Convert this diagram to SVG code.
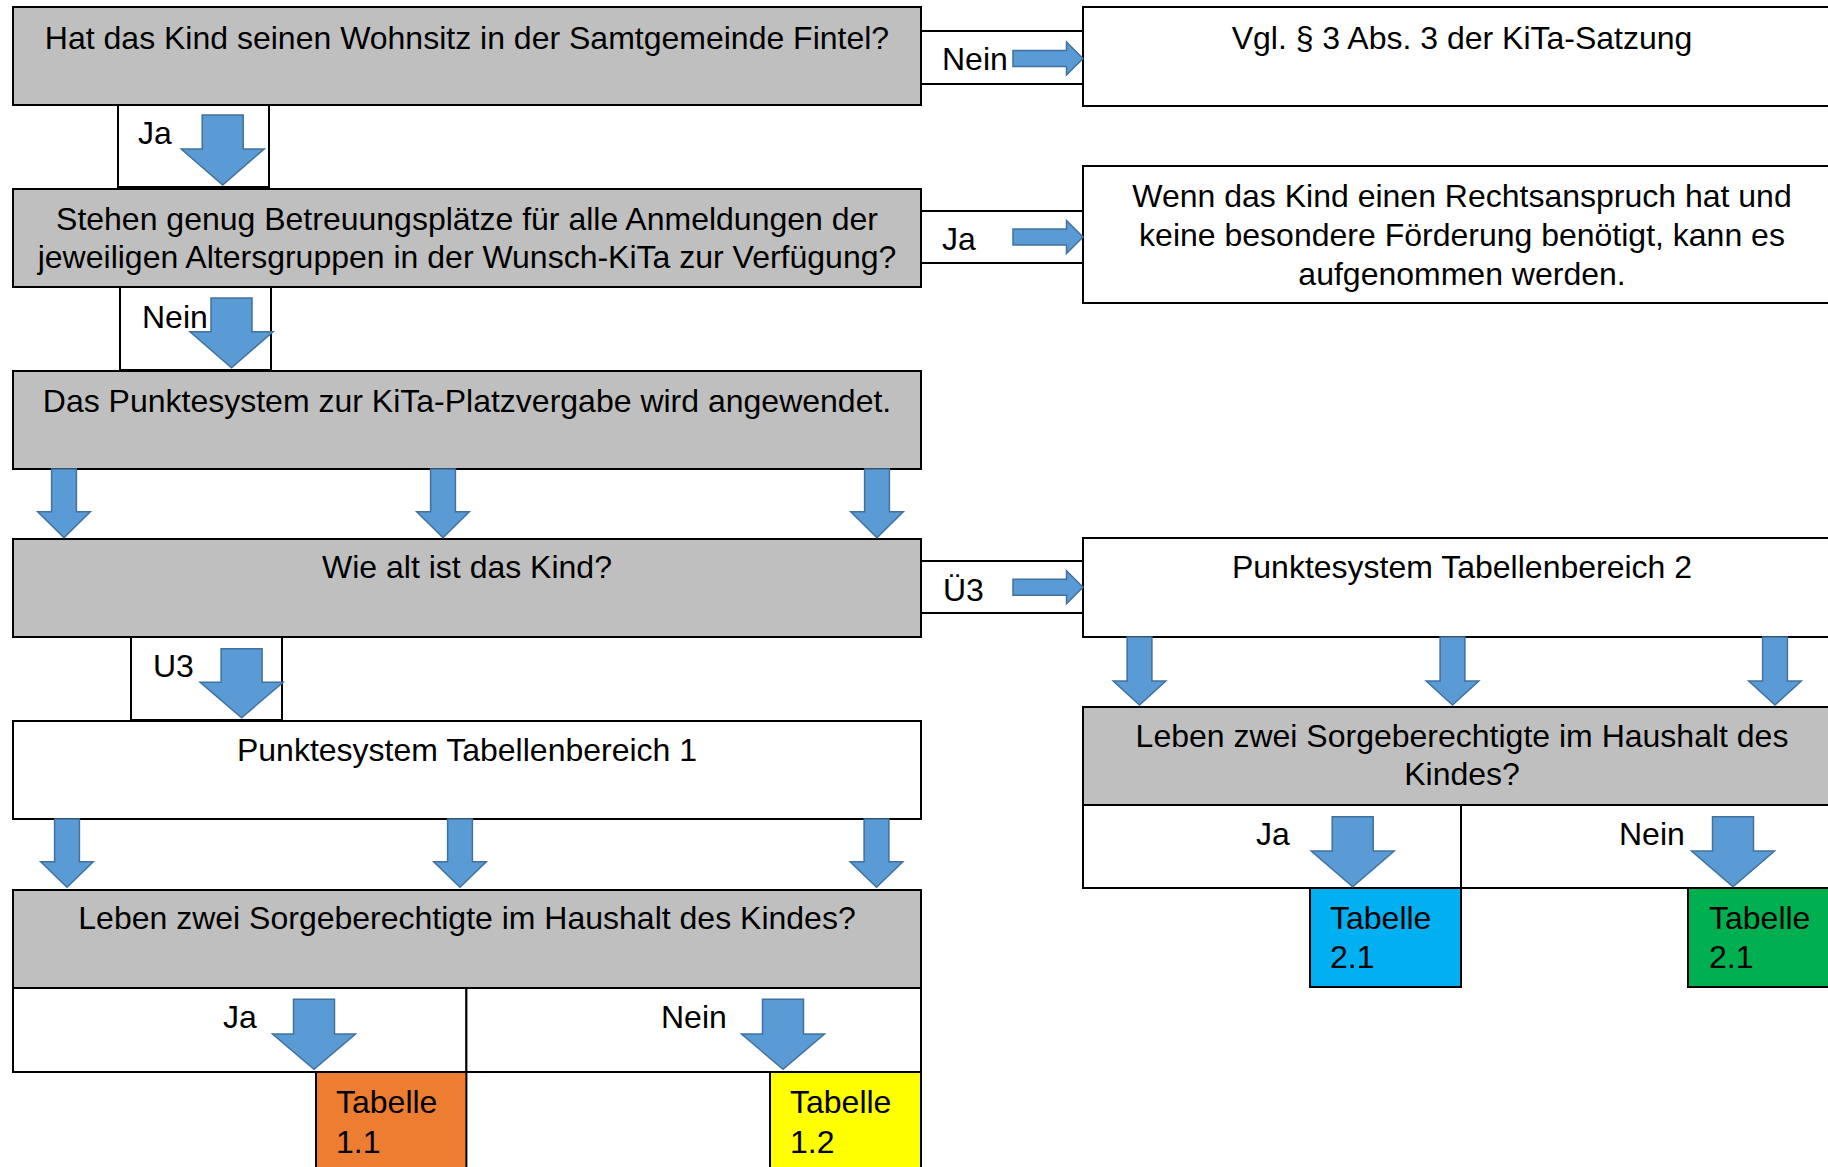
<svg xmlns="http://www.w3.org/2000/svg" width="1828" height="1167" viewBox="0 0 1828 1167">
<style>
  text { font-family: "Liberation Sans", Arial, sans-serif; font-size: 32px; fill: #000; }
  .c { text-anchor: middle; }
  .box { stroke: #000; stroke-width: 2; }
  .gray { fill: #BFBFBF; }
  .white { fill: #FFFFFF; }
  .arrow { fill: #5B9BD5; stroke: #41719C; stroke-width: 1.5; stroke-linejoin: miter; }
</style>
<rect x="0" y="0" width="1828" height="1167" fill="#FFFFFF"/>

<g id="q-wohnsitz">
  <rect class="box gray" x="13" y="7" width="908" height="98"/>
  <text class="c" x="467" y="49">Hat das Kind seinen Wohnsitz in der Samtgemeinde Fintel?</text>
</g>
<g id="satzung">
  <rect class="box white" x="1083" y="7" width="760" height="99"/>
  <text class="c" x="1462" y="49">Vgl. § 3 Abs. 3 der KiTa-Satzung</text>
</g>
<g id="q-plaetze">
  <rect class="box gray" x="13" y="189" width="908" height="98"/>
  <text class="c" x="467" y="230">Stehen genug Betreuungsplätze für alle Anmeldungen der</text>
  <text class="c" x="467" y="268">jeweiligen Altersgruppen in der Wunsch-KiTa zur Verfügung?</text>
</g>
<g id="aufnahme">
  <rect class="box white" x="1083" y="166" width="760" height="137"/>
  <text class="c" x="1462" y="207">Wenn das Kind einen Rechtsanspruch hat und</text>
  <text class="c" x="1462" y="246">keine besondere Förderung benötigt, kann es</text>
  <text class="c" x="1462" y="285">aufgenommen werden.</text>
</g>
<g id="punktesystem">
  <rect class="box gray" x="13" y="371" width="908" height="98"/>
  <text class="c" x="467" y="412">Das Punktesystem zur KiTa-Platzvergabe wird angewendet.</text>
</g>
<g id="q-alter">
  <rect class="box gray" x="13" y="539" width="908" height="98"/>
  <text class="c" x="467" y="578">Wie alt ist das Kind?</text>
</g>
<g id="tabellenbereich-2">
  <rect class="box white" x="1083" y="538" width="760" height="99"/>
  <text class="c" x="1462" y="578">Punktesystem Tabellenbereich 2</text>
</g>
<g id="tabellenbereich-1">
  <rect class="box white" x="13" y="721" width="908" height="98"/>
  <text class="c" x="467" y="761">Punktesystem Tabellenbereich 1</text>
</g>
<g id="q-sorge-1">
  <rect class="box gray" x="13" y="890" width="908" height="98"/>
  <text class="c" x="467" y="929">Leben zwei Sorgeberechtigte im Haushalt des Kindes?</text>
</g>
<g id="q-sorge-2">
  <rect class="box gray" x="1083" y="707" width="760" height="98"/>
  <text class="c" x="1462" y="747">Leben zwei Sorgeberechtigte im Haushalt des</text>
  <text class="c" x="1462" y="785">Kindes?</text>
</g>
<g id="tabelle-1-1">
  <rect class="box" fill="#ED7D31" x="316" y="1072" width="150.4" height="110"/>
  <text x="336" y="1113">Tabelle</text>
  <text x="336" y="1153">1.1</text>
</g>
<g id="tabelle-1-2">
  <rect class="box" fill="#FFFF00" x="770" y="1072" width="151" height="110"/>
  <text x="790" y="1113">Tabelle</text>
  <text x="790" y="1153">1.2</text>
</g>
<g id="tabelle-2-1-a">
  <rect class="box" fill="#00B0F0" x="1310" y="888" width="151" height="99"/>
  <text x="1330" y="929">Tabelle</text>
  <text x="1330" y="968">2.1</text>
</g>
<g id="tabelle-2-1-b">
  <rect class="box" fill="#00B050" x="1688" y="888" width="155" height="99"/>
  <text x="1709" y="929">Tabelle</text>
  <text x="1709" y="968">2.1</text>
</g>

<g id="connectors">
  <g id="c-nein-satzung">
    <rect class="box white" x="921" y="31" width="162" height="53"/>
    <text x="942" y="70">Nein</text>
    <path class="arrow" d="M1013,50.5 H1066.5 V42 L1083,58.5 L1066.5,75 V66.5 H1013 Z"/>
  </g>
  <g id="c-ja-plaetze">
    <rect class="box white" x="118" y="105" width="151" height="82"/>
    <text x="138" y="144">Ja</text>
    <path class="arrow" d="M202.2,115 H243.2 V149 H264.2 L222.7,185 L181.2,149 H202.2 Z"/>
  </g>
  <g id="c-ja-aufnahme">
    <rect class="box white" x="921" y="211" width="162" height="52"/>
    <text x="942" y="250">Ja</text>
    <path class="arrow" d="M1013,229 H1066.5 V220.5 L1083,237 L1066.5,253.5 V245 H1013 Z"/>
  </g>
  <g id="c-nein-punkte">
    <rect class="box white" x="120" y="287" width="151" height="83"/>
    <text x="142" y="328">Nein</text>
    <path class="arrow" d="M211,298 H252 V331.7 H273 L231.5,367.7 L190,331.7 H211 Z"/>
  </g>
  <g id="c-punkte-alter">
    <path class="arrow" d="M51.6,469 H76.4 V511.7 H90.3 L64,537.7 L37.7,511.7 H51.6 Z"/>
    <path class="arrow" d="M430.6,469 H455.4 V511.7 H469.3 L443,537.7 L416.7,511.7 H430.6 Z"/>
    <path class="arrow" d="M864.6,469 H889.4 V511.7 H903.3 L877,537.7 L850.7,511.7 H864.6 Z"/>
  </g>
  <g id="c-ue3">
    <rect class="box white" x="921" y="561" width="162" height="52"/>
    <text x="943" y="601">Ü3</text>
    <path class="arrow" d="M1013,579.3 H1066.5 V570.8 L1083,587.3 L1066.5,603.8 V595.3 H1013 Z"/>
  </g>
  <g id="c-u3">
    <rect class="box white" x="131" y="637" width="151" height="83"/>
    <text x="153" y="677">U3</text>
    <path class="arrow" d="M221.1,648.7 H262.1 V682.3 H283.1 L241.6,717.7 L200.1,682.3 H221.1 Z"/>
  </g>
  <g id="c-tb1-sorge">
    <path class="arrow" d="M54.6,819 H79.4 V861.7 H93.3 L67,887.3 L40.7,861.7 H54.6 Z"/>
    <path class="arrow" d="M447.6,819 H472.4 V861.7 H486.3 L460,887.3 L433.7,861.7 H447.6 Z"/>
    <path class="arrow" d="M864.1,819 H888.9 V861.7 H902.8 L876.5,887.3 L850.2,861.7 H864.1 Z"/>
  </g>
  <g id="c-tb2-sorge">
    <path class="arrow" d="M1127.1,637 H1151.9 V681 H1165.8 L1139.5,705 L1113.2,681 H1127.1 Z"/>
    <path class="arrow" d="M1440.1,637 H1464.9 V681 H1478.8 L1452.5,705 L1426.2,681 H1440.1 Z"/>
    <path class="arrow" d="M1762.6,637 H1787.4 V681 H1801.3 L1775,705 L1748.7,681 H1762.6 Z"/>
  </g>
  <g id="c-sorge1-ja">
    <rect class="box white" x="13" y="988" width="453.4" height="84"/>
    <text x="223" y="1028">Ja</text>
    <path class="arrow" d="M293.5,999.3 H334.5 V1034 H355.5 L314,1069.3 L272.5,1034 H293.5 Z"/>
  </g>
  <g id="c-sorge1-nein">
    <rect class="box white" x="466.4" y="988" width="454.6" height="84"/>
    <text x="661" y="1028">Nein</text>
    <path class="arrow" d="M762.5,999.3 H803.5 V1034 H824.5 L783,1069.3 L741.5,1034 H762.5 Z"/>
  </g>
  <g id="c-sorge2-ja">
    <rect class="box white" x="1083" y="805" width="378" height="83"/>
    <text x="1256" y="845">Ja</text>
    <path class="arrow" d="M1332.2,816.7 H1373.2 V851 H1394.2 L1352.7,886.7 L1311.2,851 H1332.2 Z"/>
  </g>
  <g id="c-sorge2-nein">
    <rect class="box white" x="1461" y="805" width="382" height="83"/>
    <text x="1619" y="845">Nein</text>
    <path class="arrow" d="M1712.5,816.7 H1753.5 V851 H1774.5 L1733,886.7 L1691.5,851 H1712.5 Z"/>
  </g>
</g>
</svg>
